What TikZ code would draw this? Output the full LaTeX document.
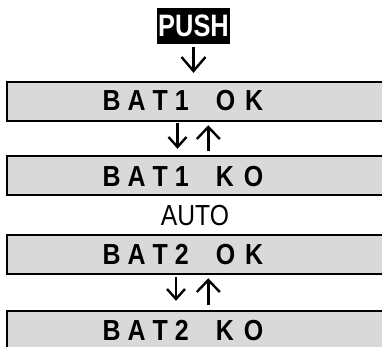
\documentclass[tikz,border=0pt]{standalone}
\usepackage{fontspec}
\newfontfamily\nbold{Liberation Sans Bold}[FakeStretch=0.86]
\newfontfamily\pbold{Liberation Sans Bold}[FakeStretch=0.82]
\newfontfamily\nreg{Liberation Sans}[FakeStretch=0.85]
\begin{document}
\begin{tikzpicture}[x=1pt,y=-1pt,
  box/.style={draw=black,line width=2pt,fill=black!15,rectangle,inner sep=0pt,
    anchor=north west,minimum width=400pt,minimum height=39pt},
  lbl/.style={inner sep=0pt,anchor=base west,font=\nbold\fontsize{29}{29}\selectfont},
  glyph/.style={line width=2.4pt,line cap=butt,line join=miter}]
\clip (0,0) rectangle (382,347);
\fill[white] (0,0) rectangle (382,347);
% PUSH
\node[fill=black,text=white,inner sep=0pt,minimum width=73pt,minimum height=36pt,
  font=\pbold\fontsize{31}{31}\selectfont] (push) at (193.5,26) {PUSH};
% boxes
\node[box] (b1) at (6,81) {};
\node[box] (b2) at (6,155.5) {};
\node[box] (b3) at (6,233.5) {};
\node[box] (b4) at (6,310.3) {};
\node[lbl] (t1) at (102.5,111) {B\kern7pt A\kern7pt T\kern7pt 1\kern27pt O\kern10pt K};
\node[lbl] (t2) at (102.5,186) {B\kern7pt A\kern7pt T\kern7pt 1\kern27pt K\kern10pt O};
\node[lbl] (t3) at (102.5,264) {B\kern7pt A\kern7pt T\kern7pt 2\kern27pt O\kern10pt K};
\node[lbl] (t4) at (102.5,340.5) {B\kern7pt A\kern7pt T\kern7pt 2\kern27pt K\kern10pt O};
\node[inner sep=0pt,anchor=base,font=\nreg\fontsize{29}{29}\selectfont] (auto) at (195,225.3) {AUTO};
% arrow glyphs
\coordinate (a0s) at (193.5,47);  \coordinate (a0e) at (193.5,71);
\draw[glyph] (a0s) -- (a0e);
\draw[glyph] ([xshift=-12pt,yshift=14pt]a0e) -- (a0e) -- ([xshift=12pt,yshift=14pt]a0e);
% pair 1
\coordinate (d1s) at (177.5,123); \coordinate (d1e) at (177.5,147);
\draw[glyph] (d1s) -- (d1e);
\draw[glyph] ([xshift=-9pt,yshift=10pt]d1e) -- (d1e) -- ([xshift=9pt,yshift=10pt]d1e);
\coordinate (u1s) at (208.3,151); \coordinate (u1e) at (208.3,127);
\draw[glyph] (u1s) -- (u1e);
\draw[glyph] ([xshift=-11.5pt,yshift=-12pt]u1e) -- (u1e) -- ([xshift=11.5pt,yshift=-12pt]u1e);
% pair 2
\coordinate (d2s) at (176,277); \coordinate (d2e) at (176,299);
\draw[glyph] (d2s) -- (d2e);
\draw[glyph] ([xshift=-9pt,yshift=10pt]d2e) -- (d2e) -- ([xshift=9pt,yshift=10pt]d2e);
\coordinate (u2s) at (208.3,305); \coordinate (u2e) at (208.3,280);
\draw[glyph] (u2s) -- (u2e);
\draw[glyph] ([xshift=-11.5pt,yshift=-12pt]u2e) -- (u2e) -- ([xshift=11.5pt,yshift=-12pt]u2e);
\end{tikzpicture}
\end{document}
